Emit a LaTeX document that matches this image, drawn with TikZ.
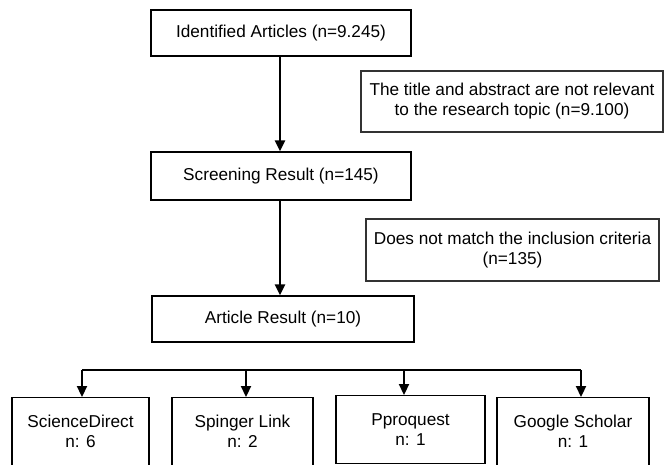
\documentclass[tikz,border=0pt]{standalone}
\usepackage{fontspec}
\setmainfont{Liberation Sans}
\usetikzlibrary{arrows.meta,shadows}

\begin{document}
\begin{tikzpicture}[x=1pt,y=-1pt,
  every node/.style={font=\fontsize{17.2}{20}\selectfont,align=center,inner sep=0pt},
  mainbox/.style={draw,fill=white,line width=1.3pt,minimum width=260pt,minimum height=46pt,
    drop shadow={shadow xshift=-1.4pt,shadow yshift=-1.4pt,fill=black,opacity=1}},
  notebox/.style={draw=black!80,line width=1.1pt,minimum height=61pt},
  dbbox/.style={draw,line width=1.1pt,anchor=north,minimum height=68pt},
  flow/.style={line width=2.2pt,-{Triangle[width=10pt,length=11pt]}}]
  \clip (0,0) rectangle (664,464);
  \node[mainbox] (ident) at (281,33) {Identified Articles (n=9.245)};
  \node[notebox,minimum width=302pt] (excl1) at (512,101.5)
    {The title and abstract are not relevant\\to the research topic (n=9.100)};
  \node[mainbox,minimum height=48pt] (screen) at (281,176) {Screening Result (n=145)};
  \node[notebox,minimum width=293pt,minimum height=62pt] (excl2) at (512.5,250)
    {Does not match the inclusion criteria\\(n=135)};
  \node[mainbox,minimum width=262pt] (result) at (283,319) {Article Result (n=10)};
  \node[dbbox,minimum width=137pt] (sd) at (80.5,397) {ScienceDirect\\n: 6};
  \node[dbbox,minimum width=141pt] (sl) at (242.5,397) {Spinger Link\\n: 2};
  \node[dbbox,minimum width=149pt] (pq) at (410.5,395) {Pproquest\\n: 1};
  \node[dbbox,minimum width=152pt] (gs) at (573,397) {Google Scholar\\n: 1};
  \draw[flow] (ident.south -| 280,0) -- (screen.north -| 280,0);
  \draw[flow] (screen.south -| 280,0) -- (result.north -| 280,0);
  \coordinate (barL) at (82,370);
  \coordinate (barR) at (581,370);
  \draw[line width=2.2pt] (barL) -- (barR);
  \draw[flow] (barL) -- (barL |- sd.north);
  \draw[flow] (246,370) -- (246,0 |- sl.north);
  \draw[flow] (404,370) -- (404,0 |- pq.north);
  \draw[flow] (barR) -- (barR |- gs.north);
\end{tikzpicture}
\end{document}
